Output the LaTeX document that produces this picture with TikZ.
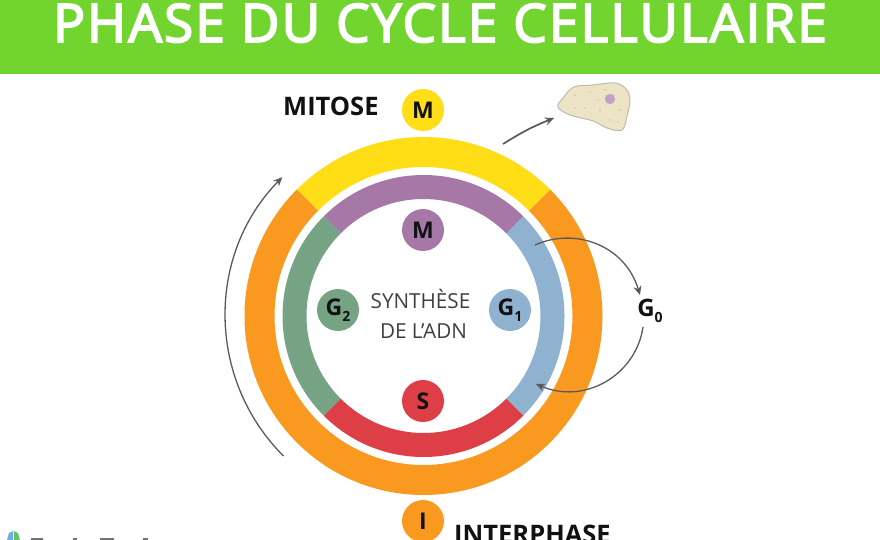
\documentclass[tikz,border=0pt]{standalone}
\usepackage{fontspec}
\setmainfont{Open Sans}
\newfontfamily\titlefont[LetterSpace=4.1,FakeBold=3.5]{Open Sans}
\usetikzlibrary{arrows.meta,calc}
\definecolor{hdr}{HTML}{72D52F}
\definecolor{cyel}{HTML}{FFDD17}
\definecolor{cora}{HTML}{F9991F}
\definecolor{cpur}{HTML}{A678A8}
\definecolor{cgrn}{HTML}{76A384}
\definecolor{cblu}{HTML}{8FB2D0}
\definecolor{cred}{HTML}{DE3F46}
\definecolor{ink}{HTML}{111111}
\definecolor{arr}{HTML}{5A5A5E}
\definecolor{cellfill}{HTML}{EDE4C6}
\definecolor{celledge}{HTML}{BDBBAE}
\definecolor{celldot}{HTML}{CFC39A}
\definecolor{nucl}{HTML}{C3A0C6}
\tikzset{
  x=1pt,y=-1pt,
  phasedot/.style={circle,minimum size=42pt,inner sep=0pt,font=\bfseries\fontsize{23}{23}\selectfont,text=ink},
  biglabel/.style={font=\bfseries\fontsize{25.5}{25.5}\selectfont,text=ink,inner sep=0pt,anchor=base west},
  thinarrow/.style={draw=arr,line width=1.3pt,-{Stealth[length=9pt,width=8pt]}},
  midtext/.style={font=\fontsize{20.7}{20.7}\selectfont,text=black!75,inner sep=0pt,anchor=base},
}
\newcommand{\subdigit}[1]{\raisebox{-6pt}{\fontsize{14}{14}\selectfont #1}}
\begin{document}
\begin{tikzpicture}
\useasboundingbox (0,0) rectangle (880,540);
\clip (0,0) rectangle (880,540);
\fill[white] (0,0) rectangle (880,540);
\fill[hdr] (0,0) rectangle (880,74);
\node[text=white,font=\titlefont\fontsize{53}{53}\selectfont,inner sep=0pt,anchor=base] (title) at (440,42) {PHASE DU CYCLE CELLULAIRE};
\coordinate (c) at (423.5,316);
\foreach \col/\a/\b/\ro/\ri in {
  cora/-45/225/179/149, cyel/225/315/179/149,
  cblu/-45/45/141/117, cpur/225/315/141/117, cgrn/135/225/141/117, cred/45/135/141/117}{
  \fill[\col] ($(c)+(\a:\ro)$) arc[start angle=\a,end angle=\b,radius=\ro]
     -- ($(c)+(\b:\ri)$) arc[start angle=\b,end angle=\a,radius=\ri] -- cycle;
}
\node[phasedot,fill=cyel] (mtop) at (423,110) {M};
\node[phasedot,fill=cpur] (minner) at (423,230) {M};
\node[phasedot,fill=cgrn] (g2) at (338,310) {G\subdigit{2}};
\node[phasedot,fill=cblu] (g1) at (510,310) {G\subdigit{1}};
\node[phasedot,fill=cred] (s) at (423,401) {S};
\node[phasedot,fill=cora] (i) at (423,521) {I};
\node[biglabel] (mitose) at (283,116) {MITOSE};
\node[biglabel] (interphase) at (454,543) {INTERPHASE};
\node[midtext] (syn) at (420.5,308) {SYNTHÈSE};
\node[midtext] (adn) at (423.5,338) {DE L’ADN};
\node[inner sep=0pt,text=ink,font=\bfseries\fontsize{24}{24}\selectfont] (g0) at (650,311) {G\subdigit{0}};
% cell
\draw[draw=celledge,fill=cellfill,line width=1pt]
  plot[smooth cycle,tension=0.6] coordinates {(574,87) (593,85) (615,83) (626,89) (630,100) (627,116) (622,130)
  (607,128) (593,121) (570,115) (558,107) (563,98)};
\foreach \px/\py in {575/95,590/92,605/90,620/110,585/108,600/110,610/120,575/108,598/100,618/122}
  \fill[celldot] (\px,\py) circle[radius=0.9];
\fill[nucl,draw=cpur!60] (610,99) circle[radius=5];
% arrows
\coordinate (a1s) at ($(c)+(135:198)$);
\coordinate (cellS) at (503,144);
\coordinate (cellE) at (554,118);
\coordinate (g0a) at (535,245);
\coordinate (g0b) at (640,295);
\coordinate (g0c) at (643,327);
\coordinate (g0d) at (536,384);
\draw[thinarrow] (a1s) arc[start angle=135,end angle=224.5,radius=198];
\draw[thinarrow,line width=1.7pt] (cellS) to[bend left=5] (cellE);
\draw[thinarrow] (g0a) .. controls (575,227) and (625,245) .. (g0b);
\draw[thinarrow] (g0c) .. controls (636,375) and (585,405) .. (g0d);
% logo fragments, cut by the page edge
\fill[cyan!70!blue!60] (7,540) -- (9,533) -- (13,531) -- (13,540) -- cycle;
\fill[green!60!black!60] (14,540) -- (14,531) -- (18,533) -- (20,540) -- cycle;
\foreach \lx/\lw in {31/12,73/4,100/14,143/5}
  \fill[black!55] (\lx,538) rectangle ++(\lw,2);
\end{tikzpicture}
\end{document}
